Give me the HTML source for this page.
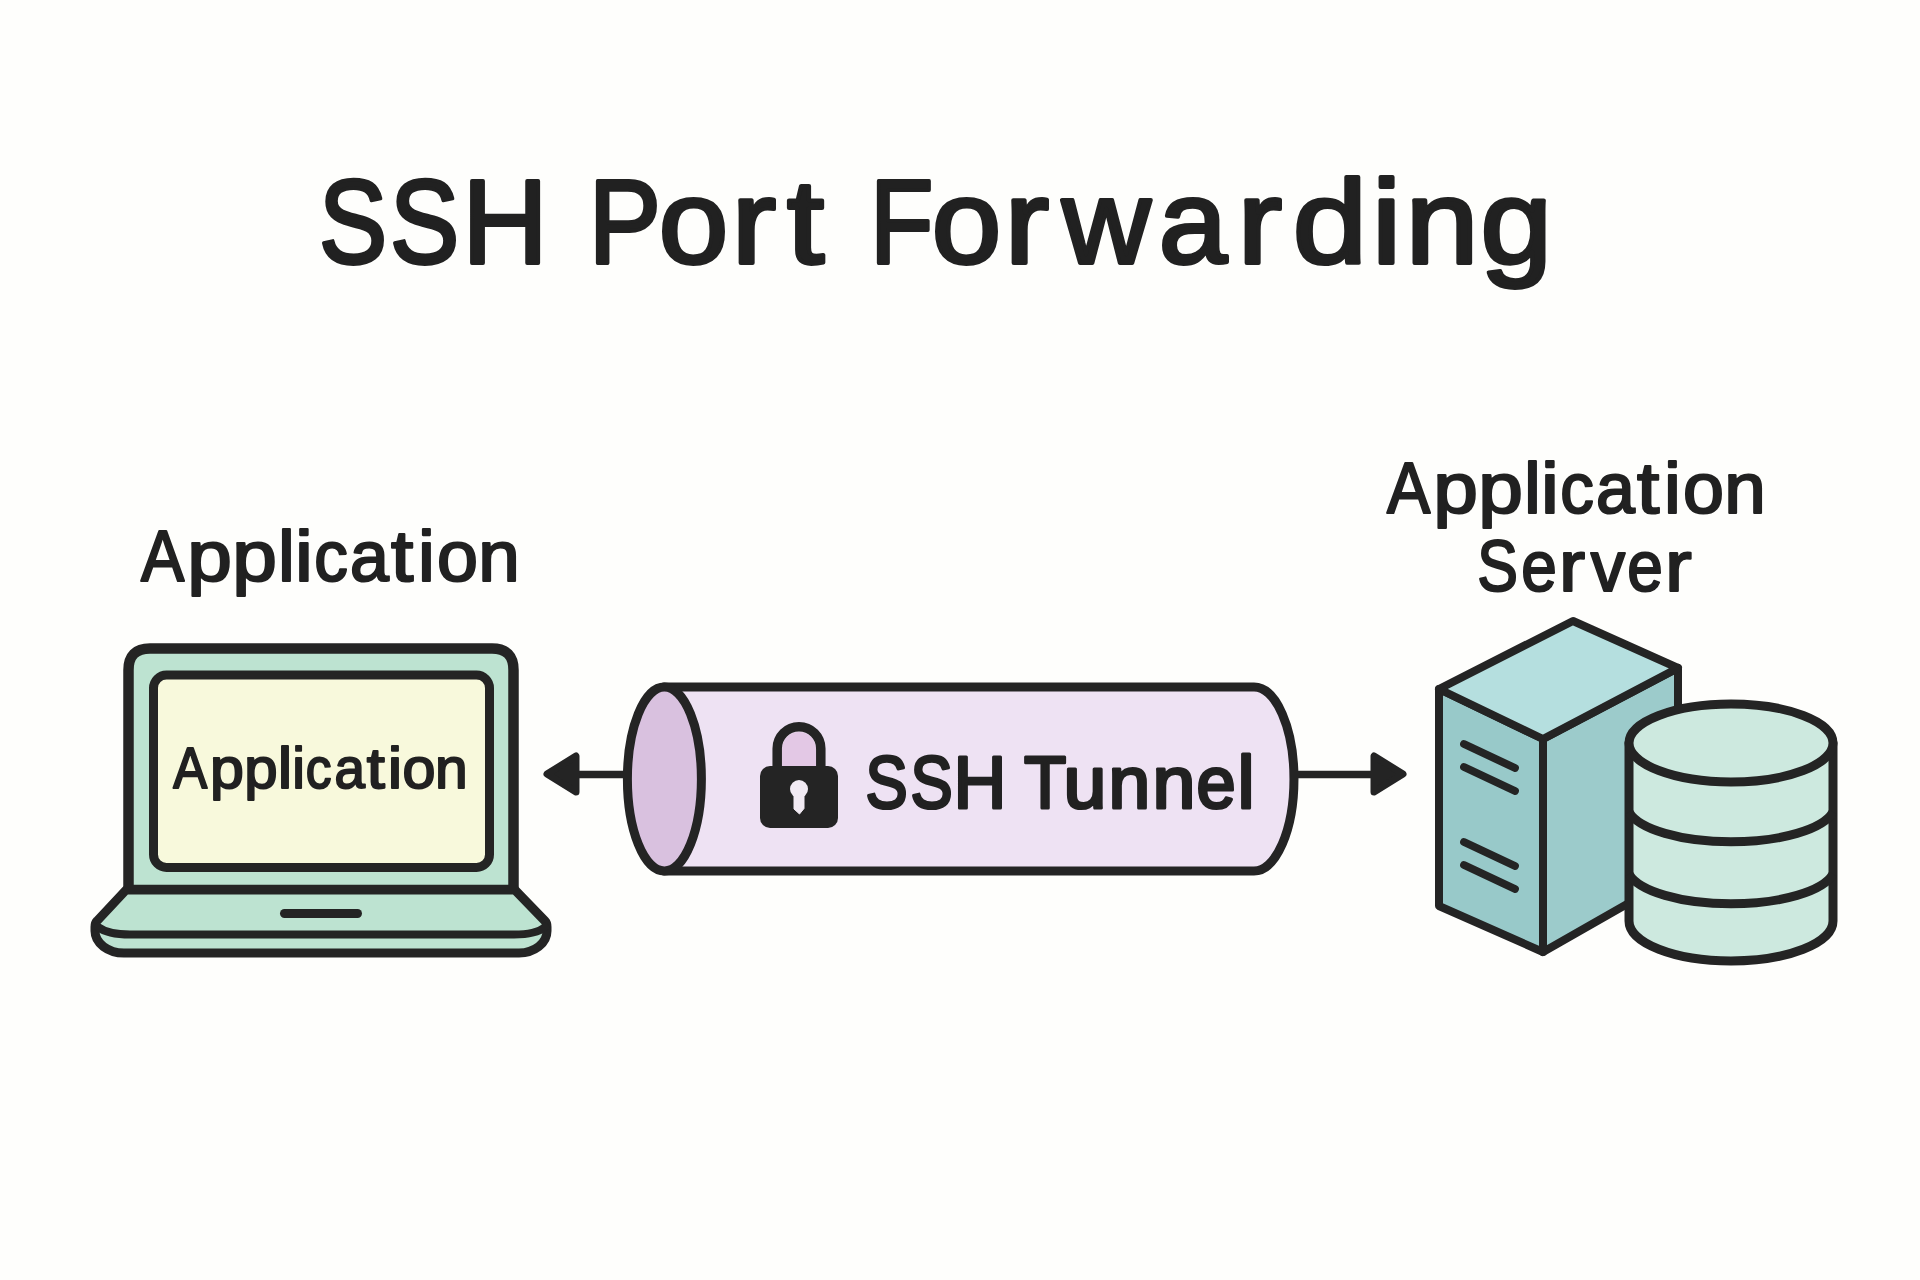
<!DOCTYPE html>
<html><head><meta charset="utf-8"><title>SSH Port Forwarding</title>
<style>
html,body{margin:0;padding:0;background:#fefefc;}
body{width:1920px;height:1280px;overflow:hidden;position:relative;}
svg{position:absolute;left:0;top:0;}
text{font-family:"Liberation Sans",sans-serif;}
</style></head>
<body>
<svg width="1920" height="1280" viewBox="0 0 1920 1280">
<text y="262.6" font-size="119.5" fill="#212121" stroke="#212121" stroke-width="3.80" stroke-linejoin="round" ><tspan x="319.0" textLength="68.07" lengthAdjust="spacingAndGlyphs">S</tspan><tspan x="389.9" textLength="69.17" lengthAdjust="spacingAndGlyphs">S</tspan><tspan x="462.2" textLength="85.62" lengthAdjust="spacingAndGlyphs">H</tspan> <tspan x="588.8" textLength="72.14" lengthAdjust="spacingAndGlyphs">P</tspan><tspan x="658.7" textLength="69.52" lengthAdjust="spacingAndGlyphs">o</tspan><tspan x="731.4" textLength="44.57" lengthAdjust="spacingAndGlyphs">r</tspan><tspan x="786.9" textLength="37.19" lengthAdjust="spacingAndGlyphs">t</tspan> <tspan x="870.1" textLength="63.36" lengthAdjust="spacingAndGlyphs">F</tspan><tspan x="931.7" textLength="69.52" lengthAdjust="spacingAndGlyphs">o</tspan><tspan x="1004.4" textLength="44.57" lengthAdjust="spacingAndGlyphs">r</tspan><tspan x="1062.1" textLength="88.62" lengthAdjust="spacingAndGlyphs">w</tspan><tspan x="1158.7" textLength="68.31" lengthAdjust="spacingAndGlyphs">a</tspan><tspan x="1237.4" textLength="44.57" lengthAdjust="spacingAndGlyphs">r</tspan><tspan x="1292.8" textLength="74.44" lengthAdjust="spacingAndGlyphs">d</tspan><tspan x="1371.7" textLength="29.73" lengthAdjust="spacingAndGlyphs">i</tspan><tspan x="1405.4" textLength="73.08" lengthAdjust="spacingAndGlyphs">n</tspan><tspan x="1480.6" textLength="71.61" lengthAdjust="spacingAndGlyphs">g</tspan></text>
<text y="581.4" font-size="71.7" fill="#212121" stroke="#212121" stroke-width="2.20" stroke-linejoin="round" ><tspan x="140.9" textLength="43.26" lengthAdjust="spacingAndGlyphs">A</tspan><tspan x="187.3" textLength="44.66" lengthAdjust="spacingAndGlyphs">p</tspan><tspan x="232.3" textLength="44.66" lengthAdjust="spacingAndGlyphs">p</tspan><tspan x="278.0" textLength="16.86" lengthAdjust="spacingAndGlyphs">l</tspan><tspan x="295.1" textLength="17.84" lengthAdjust="spacingAndGlyphs">i</tspan><tspan x="314.2" textLength="33.56" lengthAdjust="spacingAndGlyphs">c</tspan><tspan x="350.1" textLength="38.82" lengthAdjust="spacingAndGlyphs">a</tspan><tspan x="391.0" textLength="22.31" lengthAdjust="spacingAndGlyphs">t</tspan><tspan x="418.1" textLength="16.86" lengthAdjust="spacingAndGlyphs">i</tspan><tspan x="437.0" textLength="40.92" lengthAdjust="spacingAndGlyphs">o</tspan><tspan x="478.2" textLength="41.51" lengthAdjust="spacingAndGlyphs">n</tspan></text>
<text y="513.4" font-size="71.7" fill="#212121" stroke="#212121" stroke-width="2.20" stroke-linejoin="round" ><tspan x="1386.9" textLength="43.26" lengthAdjust="spacingAndGlyphs">A</tspan><tspan x="1433.3" textLength="44.66" lengthAdjust="spacingAndGlyphs">p</tspan><tspan x="1478.3" textLength="44.66" lengthAdjust="spacingAndGlyphs">p</tspan><tspan x="1524.0" textLength="16.86" lengthAdjust="spacingAndGlyphs">l</tspan><tspan x="1541.1" textLength="17.84" lengthAdjust="spacingAndGlyphs">i</tspan><tspan x="1560.2" textLength="33.56" lengthAdjust="spacingAndGlyphs">c</tspan><tspan x="1596.1" textLength="38.82" lengthAdjust="spacingAndGlyphs">a</tspan><tspan x="1637.0" textLength="22.31" lengthAdjust="spacingAndGlyphs">t</tspan><tspan x="1664.1" textLength="16.86" lengthAdjust="spacingAndGlyphs">i</tspan><tspan x="1683.0" textLength="40.92" lengthAdjust="spacingAndGlyphs">o</tspan><tspan x="1724.2" textLength="41.51" lengthAdjust="spacingAndGlyphs">n</tspan></text>
<text y="591.2" font-size="71.7" fill="#212121" stroke="#212121" stroke-width="2.20" stroke-linejoin="round" ><tspan x="1477.2" textLength="40.70" lengthAdjust="spacingAndGlyphs">S</tspan><tspan x="1521.3" textLength="35.60" lengthAdjust="spacingAndGlyphs">e</tspan><tspan x="1559.0" textLength="26.10" lengthAdjust="spacingAndGlyphs">r</tspan><tspan x="1590.8" textLength="34.36" lengthAdjust="spacingAndGlyphs">v</tspan><tspan x="1627.3" textLength="35.60" lengthAdjust="spacingAndGlyphs">e</tspan><tspan x="1665.1" textLength="26.74" lengthAdjust="spacingAndGlyphs">r</tspan></text>
<path d="M128.5 890 V670 Q128.5 648.5 150 648.5 H492 Q513.5 648.5 513.5 670 V890 Z" fill="#bde3d1" stroke="#242424" stroke-width="10.5" stroke-linejoin="round"/>
<rect x="153.5" y="675" width="336" height="192.5" rx="13" fill="#f8f9dc" stroke="#242424" stroke-width="9"/>
<text y="788.0" font-size="58.1" fill="#212121" stroke="#212121" stroke-width="2.00" stroke-linejoin="round" ><tspan x="173.3" textLength="33.95" lengthAdjust="spacingAndGlyphs">A</tspan><tspan x="210.1" textLength="33.89" lengthAdjust="spacingAndGlyphs">p</tspan><tspan x="244.2" textLength="33.31" lengthAdjust="spacingAndGlyphs">p</tspan><tspan x="277.8" textLength="14.46" lengthAdjust="spacingAndGlyphs">l</tspan><tspan x="292.2" textLength="12.71" lengthAdjust="spacingAndGlyphs">i</tspan><tspan x="305.7" textLength="25.77" lengthAdjust="spacingAndGlyphs">c</tspan><tspan x="334.6" textLength="30.44" lengthAdjust="spacingAndGlyphs">a</tspan><tspan x="366.7" textLength="18.08" lengthAdjust="spacingAndGlyphs">t</tspan><tspan x="387.8" textLength="14.46" lengthAdjust="spacingAndGlyphs">i</tspan><tspan x="402.5" textLength="32.93" lengthAdjust="spacingAndGlyphs">o</tspan><tspan x="435.1" textLength="32.70" lengthAdjust="spacingAndGlyphs">n</tspan></text>
<path d="M126 890 H515 L545 921 Q547 923 547 927 V931 A28 22 0 0 1 519 953 H124 A29 22 0 0 1 95 931 V927 Q95 923 97 921 Z" fill="#bde3d1" stroke="#242424" stroke-width="9" stroke-linejoin="round"/>
<path d="M98 927 Q108 934.5 130 934.5 H514 Q536 934.5 545 927" fill="none" stroke="#242424" stroke-width="8" stroke-linecap="round"/>
<rect x="280" y="909" width="82" height="9" rx="4.5" fill="#242424"/>
<path d="M664 687 H1254 A40 92 0 0 1 1254 871 H664 Z" fill="#eee2f3" stroke="#242424" stroke-width="9" stroke-linejoin="round"/>
<ellipse cx="664.4" cy="779" rx="37" ry="92" fill="#d9c1df" stroke="#242424" stroke-width="9"/>
<line x1="570" y1="774.5" x2="624" y2="774.5" stroke="#242424" stroke-width="7.5"/>
<path d="M547 774 L576 756 L576 792 Z" fill="#242424" stroke="#242424" stroke-width="7" stroke-linejoin="round"/>
<line x1="1298" y1="774.5" x2="1380" y2="774.5" stroke="#242424" stroke-width="7.5"/>
<path d="M1403 774 L1374 756 L1374 792 Z" fill="#242424" stroke="#242424" stroke-width="7" stroke-linejoin="round"/>
<path d="M782 766 V749 A17 17 0 0 1 816 749 V766 Z" fill="#e3c8e5"/>
<path d="M777.2 772 V748.5 A21.8 21.8 0 0 1 820.8 748.5 V772" fill="none" stroke="#242424" stroke-width="9.5"/>
<rect x="760" y="766" width="78" height="62" rx="10" fill="#242424"/>
<circle cx="799" cy="789" r="9" fill="#f1eaf3"/>
<path d="M794 792 H804 L804 808.5 L799.5 814 L794 809 Z" fill="#f1eaf3" stroke="#f1eaf3" stroke-width="1" stroke-linejoin="round"/>
<text y="808.3" font-size="74.1" fill="#212121" stroke="#212121" stroke-width="3.10" stroke-linejoin="round" ><tspan x="865.5" textLength="42.12" lengthAdjust="spacingAndGlyphs">S</tspan><tspan x="910.5" textLength="42.12" lengthAdjust="spacingAndGlyphs">S</tspan><tspan x="953.5" textLength="52.92" lengthAdjust="spacingAndGlyphs">H</tspan> <tspan x="1023.9" textLength="42.25" lengthAdjust="spacingAndGlyphs">T</tspan><tspan x="1063.6" textLength="42.91" lengthAdjust="spacingAndGlyphs">u</tspan><tspan x="1108.6" textLength="41.71" lengthAdjust="spacingAndGlyphs">n</tspan><tspan x="1152.5" textLength="42.91" lengthAdjust="spacingAndGlyphs">n</tspan><tspan x="1196.5" textLength="39.18" lengthAdjust="spacingAndGlyphs">e</tspan><tspan x="1237.4" textLength="17.13" lengthAdjust="spacingAndGlyphs">l</tspan></text>
<path d="M1439 689 L1543 739 L1543 952 L1439 906 Z" fill="#98c9c9" stroke="#242424" stroke-width="8" stroke-linejoin="round"/>
<path d="M1543 739 L1678 668 L1678 875 L1543 952 Z" fill="#9ccbcb" stroke="#242424" stroke-width="8" stroke-linejoin="round"/>
<path d="M1573 621 L1678 668 L1543 739 L1439 689 Z" fill="#b5dfdf" stroke="#242424" stroke-width="8" stroke-linejoin="round"/>
<line x1="1464" y1="744" x2="1515" y2="768" stroke="#242424" stroke-width="7.8" stroke-linecap="round"/>
<line x1="1464" y1="767" x2="1515" y2="791" stroke="#242424" stroke-width="7.8" stroke-linecap="round"/>
<line x1="1464" y1="842" x2="1515" y2="866" stroke="#242424" stroke-width="7.8" stroke-linecap="round"/>
<line x1="1464" y1="865" x2="1515" y2="889" stroke="#242424" stroke-width="7.8" stroke-linecap="round"/>
<path d="M1629 743 V921 A102 40 0 0 0 1833 921 V743 Z" fill="#cde9df" stroke="#242424" stroke-width="9" stroke-linejoin="round"/>
<ellipse cx="1731" cy="743" rx="102" ry="39" fill="#cde9df" stroke="#242424" stroke-width="9"/>
<path d="M1629 812 A104 37 0 0 0 1833 812" fill="none" stroke="#242424" stroke-width="9"/>
<path d="M1629 874 A104 37 0 0 0 1833 874" fill="none" stroke="#242424" stroke-width="9"/>
</svg>
</body></html>
